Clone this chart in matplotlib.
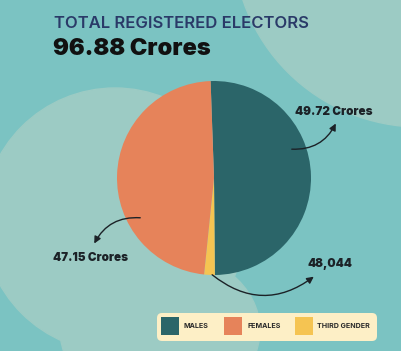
import matplotlib
matplotlib.use("Agg")
import matplotlib.pyplot as plt
from matplotlib.patches import Circle, Ellipse, FancyArrowPatch, FancyBboxPatch, Rectangle
import numpy as np

# data
categories = ["MALES", "FEMALES", "THIRD GENDER"]
electors_crore = [49.72, 47.15, 0.048044]
value_labels = ["49.72 Crores", "47.15 Crores", "48,044"]
total_label = "96.88 Crores"
title = "TOTAL REGISTERED ELECTORS"

colors = ["#2b6569", "#e6835a", "#f5c452"]
bg = "#7bc3c2"
blob = "#9ccbc4"
ink = "#1c2227"

W, H = 401, 351
fig = plt.figure(figsize=(W / 100, H / 100), dpi=100)
ax = fig.add_axes([0, 0, 1, 1])
fig.patch.set_facecolor(bg)


def py(y):
    # pixel row -> data y
    return H - y


# background blobs
ax.add_patch(Circle((115, py(220)), 132, color=blob, zorder=0))
ax.add_patch(Ellipse((160, py(330)), 200, 160, color=blob, zorder=0))
ax.add_patch(Circle((420, py(-60)), 187, color=blob, zorder=0))

# thin slice is too small to see, give it a minimum share for display
vals = np.array(electors_crore)
shown = np.maximum(vals, 0.018 * vals.sum())
order = [0, 2, 1]  # males, third gender, females clockwise from top
ax.pie(shown[order], colors=[colors[i] for i in order], startangle=92,
       counterclock=False, center=(214, py(178)), radius=97,
       wedgeprops=dict(linewidth=0), frame=True)
ax.set_xlim(0, W)
ax.set_ylim(0, H)
ax.set_aspect("equal")
ax.axis("off")

# headings
ax.text(54, py(28), title, fontsize=12, color="#2a3a68", family="Inter",
        fontweight="semibold", va="baseline", ha="left")
ax.text(53, py(55), total_label, fontsize=17, color="#111111", family="Inter",
        fontweight="black", va="baseline", ha="left")

# value labels
lab = dict(fontsize=8.4, color=ink, family="Inter", fontweight="black", va="baseline", ha="left")
ax.text(295, py(115), value_labels[0], **lab)
ax.text(53, py(261), value_labels[1], **lab)
ax.text(307, py(267), value_labels[2], **lab)

arrow = dict(arrowstyle="-|>,head_length=0.5,head_width=0.25", color=ink, lw=1.0,
             mutation_scale=8, zorder=5)
ax.add_patch(FancyArrowPatch((289, py(149)), (337, py(121)),
                             connectionstyle="arc3,rad=0.35", **arrow))
ax.add_patch(FancyArrowPatch((143, py(218)), (93, py(246)),
                             connectionstyle="arc3,rad=0.35", **arrow))
ax.add_patch(FancyArrowPatch((210, py(273)), (316, py(275)),
                             connectionstyle="arc3,rad=0.4", **arrow))

# legend box
ax.add_patch(FancyBboxPatch((157, py(341)), 220, 28, boxstyle="round,pad=0,rounding_size=5",
                            facecolor="#fdefc6", edgecolor="none", zorder=3))
sq_x = [161, 224, 295]
txt_x = [184, 247, 317]
for i, name in enumerate(categories):
    ax.add_patch(Rectangle((sq_x[i], py(335)), 18, 18, facecolor=colors[i],
                           edgecolor="none", zorder=4))
    ax.text(txt_x[i], py(326.5), name, fontsize=5.1, color="#2a2a2a", family="Inter",
            fontweight="bold", va="center", ha="left", zorder=4)

fig.savefig("out.png", dpi=100, facecolor=bg)
